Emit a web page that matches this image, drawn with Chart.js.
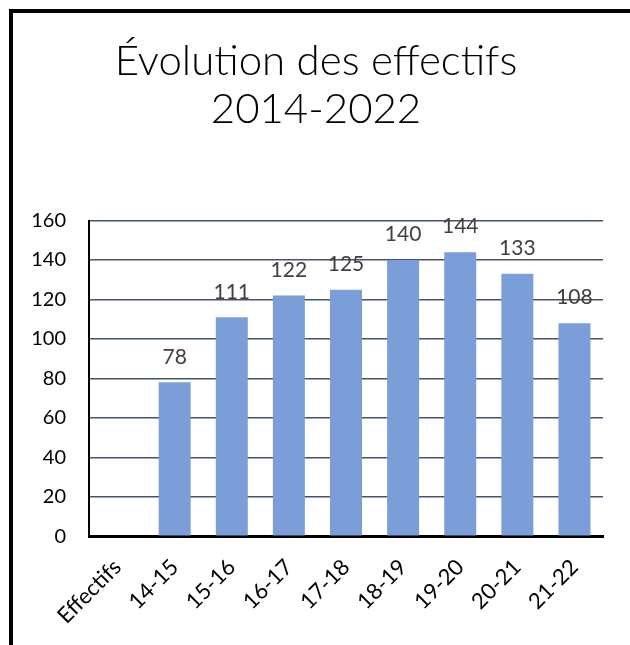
<!DOCTYPE html>
<html>
<head>
<meta charset="utf-8">
<script src="https://cdn.jsdelivr.net/npm/chart.js@4"></script>
<style>
  html, body { margin: 0; padding: 0; background: #fff; overflow: hidden; }
  #frame {
    position: absolute; left: 9px; top: 9px;
    width: 700px; height: 700px;
    border-top: 4px solid #000; border-left: 4px solid #000;
  }
  #wrap { position: absolute; left: 0; top: 0; width: 617px; height: 632px; }
</style>
</head>
<body>
<div id="frame">
  <div id="wrap"><canvas id="bar-chart"></canvas></div>
</div>
<script>
// data
labels = ["Effectifs", "14-15", "15-16", "16-17", "17-18", "18-19", "19-20", "20-21", "21-22"];
effectifs = [null, 78, 111, 122, 125, 140, 144, 133, 108];
title_lines = ["Évolution des effectifs", "2014-2022"];

// small plugin to write the value over each bar
var valueLabels = {
  id: 'valueLabels',
  afterDatasetsDraw: function(chart) {
    var ctx = chart.ctx;
    var meta = chart.getDatasetMeta(0);
    ctx.save();
    ctx.font = '21px Lato';
    ctx.fillStyle = '#404040';
    ctx.textAlign = 'center';
    ctx.textBaseline = 'bottom';
    meta.data.forEach(function(bar, i) {
      var v = chart.data.datasets[0].data[i];
      if (v == null) return;
      ctx.fillText(v, bar.x, bar.y - 15);
    });
    ctx.restore();
  }
};

new Chart(document.getElementById("bar-chart"), {
  type: 'bar',
  data: {
    labels: labels,
    datasets: [{
      data: effectifs,
      backgroundColor: "#7b9ed8",
      categoryPercentage: 1,
      barPercentage: 0.56
    }]
  },
  options: {
    responsive: true,
    maintainAspectRatio: false,
    animation: false,
    layout: { padding: { left: 16, right: 27, top: 0, bottom: 6 } },
    plugins: {
      legend: { display: false },
      tooltip: { enabled: false },
      title: {
        display: true,
        text: title_lines,
        color: '#000',
        font: { family: 'Lato', size: 42, weight: 300, lineHeight: 1.15 },
        padding: { top: 24, bottom: 87 }
      }
    },
    scales: {
      x: {
        grid: { display: false },
        border: { color: '#000', width: 3 },
        ticks: {
          color: '#000',
          font: { family: 'Lato', size: 22 },
          minRotation: 45,
          maxRotation: 45,
          padding: 10
        },
        // the rotated first label should not push the plot to the right
        afterFit: function(scale) { scale.paddingLeft = 0; scale.paddingRight = 0; }
      },
      y: {
        min: 0,
        max: 160,
        grid: { color: '#44546a', lineWidth: 1.5, drawTicks: false },
        border: { color: '#000', width: 2 },
        ticks: {
          stepSize: 20,
          color: '#000',
          font: { family: 'Lato', size: 20 },
          padding: 23
        },
        afterFit: function(scale) { scale.width = 60; }
      }
    }
  },
  plugins: [valueLabels]
});
</script>
</body>
</html>
